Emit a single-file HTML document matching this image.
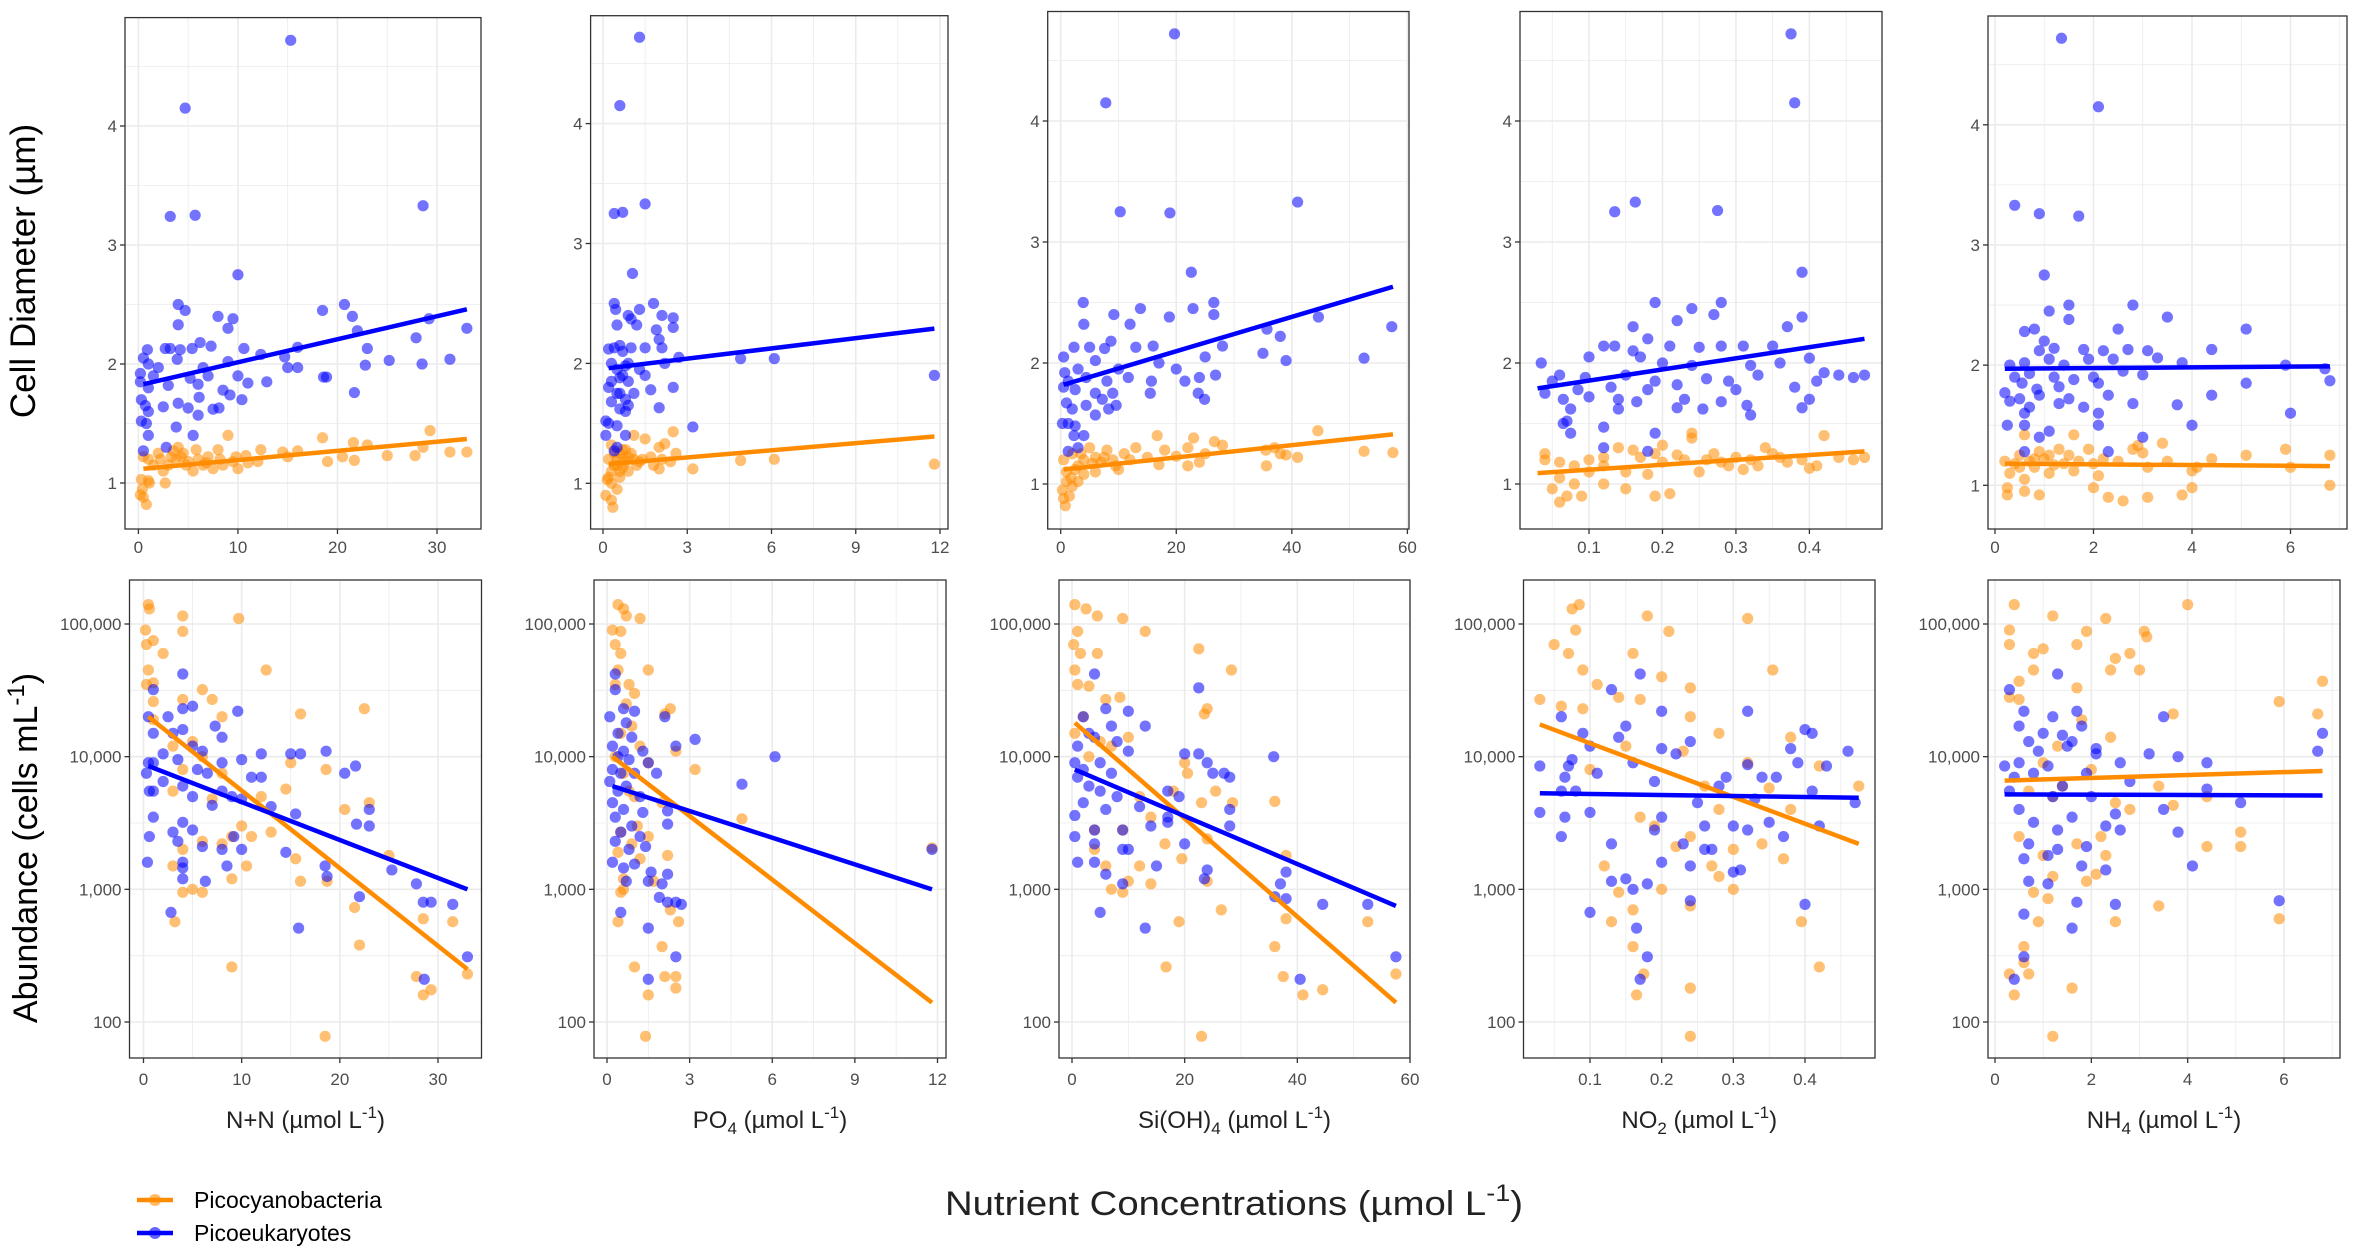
<!DOCTYPE html>
<html><head><meta charset="utf-8">
<style>
html,body{margin:0;padding:0;background:#fff;}
svg{display:block;font-family:"Liberation Sans",Arial,sans-serif;}
</style></head>
<body>
<svg id="chart" width="2359" height="1247" viewBox="0 0 2359 1247" xmlns="http://www.w3.org/2000/svg">
<text transform="translate(35,271) rotate(-90)" text-anchor="middle" font-size="35" fill="#000">Cell Diameter (µm)</text>
<text transform="translate(37,848) rotate(-90)" text-anchor="middle" font-size="34" fill="#000">Abundance (cells mL<tspan dy="-13" font-size="24">-1</tspan><tspan dy="13">)</tspan></text>
<text x="945" y="1215" font-size="34" fill="#222" textLength="578" lengthAdjust="spacingAndGlyphs">Nutrient Concentrations (µmol L<tspan dy="-14" font-size="24">-1</tspan><tspan dy="14">)</tspan></text>
<g>
<g>
<line x1="137" y1="1200" x2="173" y2="1200" stroke="#FF8C00" stroke-width="4.5"/>
<circle cx="155" cy="1200" r="6" fill="#FF8C00" fill-opacity="0.6"/>
<text x="194" y="1208" font-size="23" fill="#000">Picocyanobacteria</text></g>
<g>
<line x1="137" y1="1233" x2="173" y2="1233" stroke="#0000FF" stroke-width="4.5"/>
<circle cx="155" cy="1233" r="6" fill="#0000FF" fill-opacity="0.6"/>
<text x="194" y="1241" font-size="23" fill="#000">Picoeukaryotes</text></g>
</g>
</svg>
<script>
// ---------- DATA ----------
const nutrientNames = ["N+N","PO4","Si(OH)4","NO2","NH4"];
const xTicks1 = [0,10,20,30];
const xTicks2 = [0,3,6,9,12];
const xTicks3 = [0,20,40,60];
const xTicks4 = [0.1,0.2,0.3,0.4];
const xTicks5 = [0,2,4,6];
const diamTicks = [1,2,3,4];
const abundTicks = [100,1000,10000,100000];
const abundTickLabels = ["100","1,000","10,000","100,000"];

// Panel 1: N+N
const p1DiamCyano = [[1,1.2],[2,1.25],[3,1.15],[4,1.3],[4.3,1.22],[5,1.18],[5.5,1.1],[6,1.2],[6.5,1.15],[7,1.22],[7.5,1.12],[8.5,1.15],[9.5,1.18],[10,1.12],[3.5,1.27],[2.5,1.1],[1.5,1.15],[4.5,1.25],[5.8,1.28],[9,1.4],[18.5,1.38],[29.3,1.44],[21.6,1.34],[23,1.32],[12.3,1.28],[16,1.27],[15,1.22],[20.5,1.22],[25,1.23],[27.8,1.23],[28.6,1.3],[31.3,1.26],[33,1.26],[14.5,1.26],[19,1.18],[21.7,1.19],[10.8,1.23],[12,1.18],[8,1.28],[2.7,1.0],[1,1.02],[0.3,1.03],[0.2,0.9],[0.5,0.88],[0.8,0.82],[0.4,0.95],[1.1,1.0],[3.8,1.2],[4.8,1.15],[6.8,1.17],[8.2,1.2],[9.8,1.22],[11,1.17],[0.5,1.22],[2.2,1.2],[3.3,1.22]];
const p1DiamEuk = [[15.3,4.72],[4.7,4.15],[3.2,3.24],[5.7,3.25],[28.6,3.33],[10,2.75],[4,2.5],[4.7,2.45],[20.7,2.5],[21.5,2.4],[18.5,2.45],[8,2.4],[9.5,2.38],[29.2,2.38],[33,2.3],[4,2.33],[9,2.3],[22,2.28],[27.9,2.22],[6.2,2.18],[7.3,2.15],[10.6,2.13],[16,2.14],[23,2.13],[2.7,2.13],[3.2,2.13],[4.2,2.12],[0.9,2.12],[5.4,2.13],[12.3,2.08],[14.7,2.06],[25.2,2.03],[31.3,2.04],[0.5,2.05],[3.9,2.04],[1,2],[2,1.97],[6.5,1.97],[9,2.02],[15,1.97],[16,1.97],[22.8,1.99],[28.5,2],[0.2,1.92],[1.5,1.9],[5.2,1.88],[7,1.9],[10,1.9],[11,1.84],[12.9,1.85],[18.6,1.89],[18.9,1.89],[0.2,1.85],[1,1.8],[3,1.82],[6,1.83],[8.5,1.78],[21.7,1.76],[0.3,1.7],[0.7,1.65],[2.5,1.64],[4,1.67],[5,1.63],[6.1,1.72],[7.5,1.62],[8.1,1.63],[9.2,1.74],[10.4,1.7],[1,1.6],[6,1.57],[0.3,1.52],[0.8,1.5],[1,1.4],[5.5,1.4],[3.8,1.47],[0.5,1.27],[2.8,1.3]];
const p1AbundCyano = [[0.5,140000],[0.6,130000],[4,115000],[9.7,110000],[4,88000],[0.2,90000],[0.3,70000],[1,75000],[2,60000],[0.5,45000],[12.5,45000],[0.3,35000],[1,36000],[6,32000],[7,27000],[4,27000],[1,26000],[8,20000],[16,21000],[22.5,23000],[1,19000],[3,12000],[5,13000],[6,10000],[15,9000],[18.6,8000],[8,7500],[4,8000],[12,5000],[14.5,5700],[20.5,4000],[23,4500],[7,4800],[3,5500],[10,3000],[13,2700],[9,2500],[11,2500],[8,2200],[4,2000],[6,2300],[15.5,1700],[25,1800],[3,1500],[5,1000],[6,950],[4,950],[10.5,1500],[9,1200],[16,1150],[18.7,1150],[21.5,730],[22,380],[28.5,600],[31.5,570],[3.2,570],[9,260],[27.8,220],[28.5,160],[29.3,175],[33,230],[18.5,78]];
const p1AbundEuk = [[4,42000],[1,32000],[0.5,20000],[2.5,20000],[4,23000],[5,24000],[9.6,22000],[1,15000],[3,15000],[4,16000],[5,12000],[6,11000],[7.3,17000],[8,14000],[2,10500],[0.5,9000],[1,9000],[3.5,9500],[5.5,8000],[6.5,7500],[8,9000],[10,9500],[11,7000],[12,7000],[12,10500],[15,10500],[16,10500],[18.6,11000],[20.5,7500],[21.6,8500],[0.3,7500],[0.6,5500],[1,5500],[2,6500],[4,6000],[5,5000],[7,4300],[8,5500],[9,5000],[10,4800],[13,4200],[15.5,3700],[21.7,3100],[23,3000],[23,4000],[1,3500],[0.6,2500],[3,2700],[3.5,2300],[4,3200],[5,2800],[6,2100],[8,2000],[9.2,2500],[10,2000],[14.5,1900],[0.4,1600],[4,1600],[4,1450],[4,1200],[8.5,1500],[6.3,1150],[18.5,1500],[18.7,1250],[25.3,1400],[27.8,1100],[28.5,800],[29.3,800],[31.5,770],[22,880],[2.8,670],[15.8,510],[33,310],[28.6,210]];

// Panel 2: PO4
const p2DiamCyano = [[0.3,1.32],[1.1,1.4],[1.5,1.37],[2.5,1.43],[2.2,1.33],[2,1.3],[0.2,1.2],[0.5,1.15],[0.7,1.2],[0.9,1.1],[1,1.25],[1.3,1.18],[1.7,1.22],[2.1,1.2],[2.6,1.25],[3.2,1.12],[4.9,1.19],[6.1,1.2],[11.8,1.16],[0.4,1.25],[0.6,1.1],[0.8,1.28],[1.2,1.15],[1.8,1.15],[2.4,1.18],[0.15,1.03],[0.3,1.0],[0.1,0.9],[0.3,0.86],[0.35,0.8],[0.5,0.95],[0.3,1.1],[0.2,1.05],[0.6,1.05],[0.7,1.13],[2,1.12],[1.4,1.2],[0.9,1.22],[0.5,1.2],[0.6,1.25],[0.8,1.18],[1.1,1.2],[0.4,1.15],[0.7,1.28]];
const p2DiamEuk = [[1.3,4.72],[0.6,4.15],[0.4,3.25],[0.7,3.26],[1.5,3.33],[1.05,2.75],[0.4,2.5],[1.8,2.5],[0.45,2.45],[1.3,2.45],[0.9,2.4],[1,2.37],[2.1,2.4],[2.5,2.38],[0.5,2.32],[1.2,2.32],[1.9,2.28],[2.5,2.3],[2,2.2],[0.2,2.12],[0.4,2.13],[0.6,2.15],[0.7,2.1],[1,2.13],[1.5,2.13],[2.1,2.13],[4.9,2.04],[6.1,2.04],[2.7,2.05],[2.2,2.0],[0.3,2.0],[0.5,1.95],[0.8,1.98],[1.3,1.95],[0.3,1.85],[0.6,1.88],[0.9,1.85],[1.5,1.9],[0.2,1.8],[0.5,1.75],[0.8,1.7],[1.1,1.75],[1.7,1.78],[2.5,1.8],[0.3,1.68],[0.6,1.62],[0.9,1.65],[2,1.63],[0.1,1.52],[0.2,1.5],[0.5,1.48],[3.2,1.47],[0.8,1.4],[0.1,1.4],[0.4,1.27],[0.5,1.3],[11.8,1.9],[0.7,1.9],[0.8,1.6],[0.6,1.75],[0.9,2.0]];
const p2AbundCyano = [[0.4,140000],[0.6,130000],[0.7,115000],[1.2,110000],[0.2,90000],[0.5,88000],[0.3,70000],[0.5,60000],[0.4,45000],[1.5,45000],[0.8,35000],[0.3,35000],[1,30000],[0.7,25000],[2.1,21000],[2.3,23000],[0.9,17000],[0.5,15000],[1.2,12000],[0.3,10000],[2.5,11000],[3.2,8000],[1.5,9000],[0.6,7500],[1,5000],[0.8,5500],[2,4500],[4.9,3400],[1.1,3000],[0.5,2700],[1.5,2500],[0.9,2200],[0.4,1900],[2.2,1800],[1.2,1700],[0.6,1200],[1.7,1150],[0.5,950],[0.6,1000],[2.3,700],[2.6,570],[0.4,570],[2,370],[2.1,220],[2.5,220],[1,260],[1.5,160],[2.5,180],[1.4,78],[11.8,2050]];
const p2AbundEuk = [[0.3,42000],[0.3,32000],[0.6,23000],[1,22000],[0.1,20000],[2.1,20000],[0.7,18000],[0.4,15000],[0.9,14000],[0.2,12000],[0.6,11000],[1.3,11000],[2.5,12000],[3.2,13500],[0.4,10000],[0.8,9500],[1.5,9000],[6.1,10000],[0.2,8000],[0.5,7500],[1.0,7500],[1.8,7500],[0.1,6500],[0.4,5500],[0.7,6000],[1.2,5000],[4.9,6200],[0.2,4500],[0.6,4000],[1.3,3800],[2.2,3900],[0.3,3500],[0.9,3000],[2.2,3100],[0.5,2700],[1.2,2500],[0.3,2300],[0.8,2000],[1.4,2100],[0.2,1600],[0.6,1450],[1.0,1550],[1.6,1350],[2.2,1300],[0.7,1150],[1.5,1150],[2.0,1100],[1.9,870],[2.2,800],[2.5,800],[2.7,770],[0.5,670],[1.5,510],[2.5,310],[1.5,210],[11.8,2000]];

// Panel 3: Si(OH)4
const p3DiamCyano = [[0.5,1.2],[2,1.25],[3,1.15],[5,1.3],[6,1.22],[7,1.18],[8,1.28],[9.5,1.15],[11,1.25],[12,1.2],[13,1.3],[15,1.22],[16.7,1.4],[18,1.28],[20,1.23],[22,1.3],[23,1.38],[24,1.18],[25,1.25],[26.6,1.35],[28,1.32],[17,1.16],[22,1.15],[35.5,1.28],[37,1.3],[38,1.25],[39,1.24],[41,1.22],[44.5,1.44],[52.5,1.27],[57.5,1.26],[35.6,1.15],[1,1.1],[2.5,1.12],[4,1.08],[6,1.1],[10,1.12],[1,1.02],[0.3,0.95],[0.5,0.88],[1.5,0.9],[0.8,0.82],[2,0.98],[3,1.02],[1.8,1.05],[4,1.2],[5.5,1.17],[7.5,1.22],[9,1.2],[3.5,1.25]];
const p3DiamEuk = [[19.7,4.72],[7.8,4.15],[10.3,3.25],[18.9,3.24],[41,3.33],[22.6,2.75],[3.9,2.5],[26.5,2.5],[13.8,2.45],[22.9,2.45],[9.2,2.4],[18.8,2.38],[26.5,2.4],[44.6,2.38],[57.3,2.3],[4,2.32],[12,2.32],[35.7,2.28],[38,2.22],[8.7,2.18],[16,2.14],[13,2.13],[2.3,2.13],[5,2.13],[7.6,2.12],[28,2.14],[0.5,2.05],[6,2.02],[17,2.0],[25,2.05],[35,2.08],[52.5,2.04],[39,2.02],[20,1.95],[26.8,1.9],[0.7,1.92],[3,1.95],[10,1.95],[11.7,1.88],[24,1.88],[21.5,1.85],[1.3,1.85],[4.4,1.88],[8,1.85],[15.7,1.85],[0.5,1.8],[2.5,1.78],[6,1.75],[9,1.75],[23.8,1.75],[15.5,1.75],[24.9,1.7],[1,1.67],[4.4,1.65],[7.2,1.7],[9.6,1.65],[2,1.62],[8.3,1.62],[6,1.57],[0.3,1.5],[1.3,1.5],[2.5,1.48],[2.3,1.4],[4,1.4],[1.3,1.27],[3,1.3]];
const p3AbundCyano = [[0.5,140000],[2.5,130000],[4.5,115000],[9,110000],[1,88000],[13,88000],[0.3,70000],[1.5,60000],[4.5,60000],[22.5,65000],[0.5,45000],[28.3,45000],[1,35000],[3,34000],[6,27000],[8.5,28000],[2,20000],[23.5,21000],[24,23000],[0.5,15000],[5,13000],[7,12000],[10,14000],[3,10000],[20,9000],[20.5,7500],[12,5000],[18,5500],[25.5,5500],[28.5,4500],[36,4600],[14,3500],[23,4500],[4,2800],[9,2800],[16.5,2200],[24,2400],[4,2000],[6,1500],[12,1500],[19.5,1700],[7,1000],[10,1150],[14,1100],[9,950],[24,1150],[38,1800],[26.5,700],[19,570],[38,600],[52.5,570],[36,370],[16.7,260],[37.5,220],[41,160],[44.5,175],[57.5,230],[23,78]];
const p3AbundEuk = [[4,42000],[22.5,33000],[2,20000],[6,23000],[10,22000],[3,15000],[7,17000],[13,17000],[1,12000],[4,14000],[8,13000],[10,11000],[20,10500],[22.5,10500],[35.8,10000],[0.5,9000],[2,8000],[5,9000],[7,7500],[24,9000],[25,7500],[27,7500],[28,7000],[1,7000],[3,6000],[5,5500],[8,5000],[17,5500],[19,5000],[2,4500],[6,4000],[12,4200],[17,3500],[28,4000],[0.5,3600],[4,2800],[9,2800],[14,3000],[17,3200],[28,3000],[0.5,2500],[4,2200],[9,2000],[10,2000],[20,2200],[1,1600],[4,1600],[6,1300],[15,1500],[24,1400],[23.5,1200],[38,1350],[37,1100],[36,880],[38,850],[44.5,770],[52.5,770],[5,670],[13,510],[57.5,310],[40.5,210],[9,1100]];

// Panel 4: NO2
const p4DiamCyano = [[0.04,1.2],[0.06,1.18],[0.08,1.15],[0.1,1.2],[0.12,1.22],[0.14,1.3],[0.16,1.28],[0.17,1.22],[0.19,1.25],[0.2,1.18],[0.22,1.24],[0.24,1.42],[0.24,1.38],[0.26,1.2],[0.27,1.25],[0.29,1.15],[0.3,1.22],[0.32,1.2],[0.34,1.3],[0.35,1.25],[0.37,1.18],[0.39,1.2],[0.41,1.15],[0.42,1.4],[0.44,1.22],[0.46,1.2],[0.475,1.22],[0.04,1.25],[0.2,1.32],[0.12,1.15],[0.15,1.1],[0.25,1.1],[0.31,1.12],[0.4,1.13],[0.18,1.08],[0.06,1.05],[0.08,1.0],[0.05,0.96],[0.07,0.9],[0.06,0.85],[0.09,0.9],[0.12,1.0],[0.15,0.96],[0.19,0.9],[0.21,0.92],[0.1,1.1],[0.23,1.2],[0.28,1.18],[0.33,1.15],[0.36,1.22]];
const p4DiamEuk = [[0.375,4.72],[0.38,4.15],[0.163,3.33],[0.135,3.25],[0.275,3.26],[0.39,2.75],[0.19,2.5],[0.24,2.45],[0.28,2.5],[0.16,2.3],[0.22,2.35],[0.27,2.4],[0.37,2.3],[0.39,2.38],[0.18,2.2],[0.12,2.14],[0.135,2.14],[0.21,2.14],[0.25,2.13],[0.28,2.14],[0.31,2.14],[0.35,2.14],[0.1,2.05],[0.035,2.0],[0.16,2.1],[0.17,2.05],[0.2,2.0],[0.24,1.98],[0.32,1.98],[0.36,2.0],[0.4,2.04],[0.06,1.9],[0.095,1.88],[0.15,1.9],[0.19,1.85],[0.26,1.87],[0.29,1.85],[0.33,1.9],[0.42,1.92],[0.44,1.9],[0.46,1.88],[0.475,1.9],[0.05,1.85],[0.085,1.78],[0.13,1.8],[0.18,1.78],[0.22,1.82],[0.3,1.78],[0.38,1.8],[0.41,1.85],[0.04,1.75],[0.065,1.7],[0.1,1.72],[0.14,1.7],[0.165,1.68],[0.23,1.7],[0.28,1.68],[0.4,1.7],[0.075,1.62],[0.14,1.62],[0.22,1.63],[0.255,1.62],[0.315,1.65],[0.39,1.63],[0.065,1.5],[0.07,1.52],[0.075,1.42],[0.12,1.47],[0.32,1.57],[0.19,1.42],[0.12,1.3],[0.18,1.27]];
const p4AbundCyano = [[0.085,140000],[0.075,130000],[0.18,115000],[0.32,110000],[0.08,90000],[0.21,88000],[0.05,70000],[0.07,60000],[0.16,60000],[0.09,45000],[0.355,45000],[0.2,40000],[0.11,35000],[0.24,33000],[0.14,28000],[0.03,27000],[0.17,27000],[0.06,24000],[0.09,23000],[0.24,20000],[0.28,15000],[0.38,14000],[0.15,12000],[0.23,11000],[0.32,9000],[0.1,8000],[0.42,8500],[0.475,6000],[0.26,6000],[0.35,5800],[0.28,4000],[0.38,4000],[0.19,3000],[0.17,3500],[0.24,2500],[0.3,2000],[0.34,2200],[0.22,2100],[0.12,1500],[0.2,1000],[0.27,1500],[0.28,1250],[0.3,1000],[0.37,1700],[0.14,950],[0.16,700],[0.24,750],[0.13,570],[0.395,570],[0.16,370],[0.42,260],[0.175,230],[0.165,160],[0.24,180],[0.24,78]];
const p4AbundEuk = [[0.17,42000],[0.13,32000],[0.32,22000],[0.2,22000],[0.06,20000],[0.09,15000],[0.14,14000],[0.15,17000],[0.24,13000],[0.4,16000],[0.41,15000],[0.1,12000],[0.2,11500],[0.38,11500],[0.46,11000],[0.22,10500],[0.03,8500],[0.07,8500],[0.16,9000],[0.29,7000],[0.32,8700],[0.34,7000],[0.36,7000],[0.39,9000],[0.43,8500],[0.065,7000],[0.11,7500],[0.19,6500],[0.28,6000],[0.41,5500],[0.06,5500],[0.08,5500],[0.25,4500],[0.33,4800],[0.47,4500],[0.03,3800],[0.065,3500],[0.1,3800],[0.2,3500],[0.26,3000],[0.3,3000],[0.35,3200],[0.37,2500],[0.06,2500],[0.19,2800],[0.23,2200],[0.26,2000],[0.27,2000],[0.32,2800],[0.42,3000],[0.13,2200],[0.2,1600],[0.24,1500],[0.3,1350],[0.31,1400],[0.13,1150],[0.15,1200],[0.16,1000],[0.18,1100],[0.1,670],[0.24,820],[0.4,770],[0.165,510],[0.18,310],[0.17,210],[0.075,9500]];

// Panel 5: NH4
const p5DiamCyano = [[0.2,1.2],[0.4,1.18],[0.5,1.25],[0.7,1.2],[0.8,1.15],[0.9,1.28],[1.0,1.22],[1.2,1.17],[1.3,1.3],[1.5,1.25],[1.7,1.2],[1.9,1.3],[2.0,1.18],[2.2,1.22],[2.5,1.2],[2.8,1.3],[3.0,1.27],[3.4,1.35],[3.5,1.2],[4.1,1.15],[4.4,1.22],[5.1,1.25],[5.9,1.3],[6.0,1.15],[6.8,1.25],[0.6,1.42],[1.6,1.42],[2.9,1.33],[0.3,1.1],[0.6,1.05],[1.1,1.1],[1.6,1.12],[2.1,1.08],[3.1,1.15],[4.0,1.12],[0.25,0.98],[0.25,0.92],[0.6,0.95],[0.9,0.92],[2.0,0.98],[2.3,0.9],[2.6,0.87],[3.1,0.9],[3.8,0.92],[4.0,0.98],[6.8,1.0],[0.5,1.15],[0.8,1.22],[1.1,1.25],[1.4,1.18]];
const p5DiamEuk = [[1.35,4.72],[2.1,4.15],[0.4,3.33],[0.9,3.26],[1.7,3.24],[1,2.75],[1.5,2.5],[2.8,2.5],[1.1,2.45],[1.5,2.38],[3.5,2.4],[5.1,2.3],[0.6,2.28],[0.8,2.3],[2.5,2.3],[1.0,2.2],[0.9,2.12],[1.2,2.14],[1.8,2.13],[2.2,2.12],[2.7,2.13],[3.1,2.12],[4.4,2.13],[0.3,2.0],[0.6,2.02],[1.1,2.05],[1.4,2.0],[1.9,2.05],[2.4,2.05],[3.3,2.06],[3.8,2.02],[5.9,2.0],[6.7,1.97],[0.4,1.9],[0.7,1.93],[1.2,1.9],[1.6,1.88],[2,1.9],[2.6,1.95],[3.0,1.92],[6.8,1.87],[0.55,1.85],[0.85,1.8],[1.3,1.82],[2.1,1.85],[5.1,1.85],[0.2,1.77],[0.5,1.72],[0.9,1.75],[1.5,1.72],[2.3,1.75],[4.4,1.75],[0.3,1.7],[0.7,1.65],[1.3,1.68],[1.8,1.65],[2.8,1.68],[3.7,1.67],[0.6,1.6],[2.1,1.6],[6.0,1.6],[0.25,1.5],[0.6,1.5],[1.1,1.45],[2.1,1.5],[4.0,1.5],[0.9,1.4],[3.0,1.4],[0.6,1.28],[2.3,1.28]];
const p5AbundCyano = [[0.4,140000],[4.0,140000],[1.2,115000],[2.3,110000],[0.3,90000],[1.9,88000],[3.1,88000],[0.3,70000],[3.15,80000],[1.7,70000],[1.0,65000],[2.8,60000],[2.5,55000],[0.8,60000],[2.4,45000],[3.0,45000],[0.8,45000],[0.5,37000],[1.7,33000],[6.8,37000],[0.3,28000],[0.5,27000],[5.9,26000],[3.7,21000],[6.7,21000],[1.8,19000],[2.4,14000],[1.3,12000],[1.0,9000],[2.0,8000],[1.4,6000],[3.4,6000],[4.4,5000],[0.7,5500],[1.2,5000],[2.8,4000],[2.5,4500],[3.7,4300],[5.1,2700],[0.5,2500],[2.2,2500],[1.7,2200],[4.4,2100],[5.1,2100],[1.0,1800],[2.3,1800],[2.1,1300],[1.2,1250],[1.9,1150],[0.8,950],[1.1,850],[3.4,750],[0.9,570],[2.5,570],[5.9,600],[0.6,370],[0.6,280],[0.3,230],[0.7,230],[0.4,160],[1.6,180],[1.2,78]];
const p5AbundEuk = [[1.3,42000],[0.3,32000],[0.6,22000],[1.7,22000],[1.2,20000],[3.5,20000],[0.5,17000],[1.8,17000],[1.0,15000],[6.8,15000],[1.4,14500],[0.7,13000],[1.6,13000],[2.1,11500],[0.9,11000],[1.5,12000],[2.1,10500],[3.2,10500],[3.8,10000],[0.2,8500],[0.5,9000],[1.1,8500],[2.6,9000],[4.4,9000],[6.7,11000],[0.4,7000],[0.8,7500],[1.4,6000],[2.8,6500],[1.9,7500],[0.3,5500],[1.2,5000],[2.0,5000],[4.4,5700],[5.1,4500],[0.5,4000],[1.6,3500],[2.5,3700],[3.5,4000],[0.8,3200],[1.3,2800],[2.3,3000],[2.6,2800],[3.8,2700],[0.7,2200],[1.3,2000],[1.9,2100],[0.6,1700],[1.1,1800],[1.8,1500],[2.3,1400],[4.1,1500],[0.7,1150],[1.1,1100],[1.7,800],[2.5,770],[5.9,820],[0.6,650],[1.6,510],[0.6,310],[0.4,210]];

// Regression fit endpoints [x0, y0, x1, y1]
const fitDiamCyano = [[0.5,1.12,33,1.37],[0.2,1.16,11.8,1.39],[0.5,1.12,57.5,1.41],[0.03,1.09,0.475,1.27],[0.2,1.18,6.8,1.16]];
const fitDiamEuk = [[0.5,1.83,33,2.46],[0.2,1.96,11.8,2.29],[0.5,1.82,57.5,2.63],[0.03,1.79,0.475,2.2],[0.2,1.97,6.8,1.99]];
const fitAbundCyano = [[0.5,20000,33,250],[0.2,10000,11.8,140],[0.5,18000,57.5,140],[0.03,17500,0.475,2200],[0.2,6600,6.8,7800]];
const fitAbundEuk = [[0.5,8500,33,1000],[0.2,6000,11.8,1000],[0.5,8000,57.5,750],[0.03,5300,0.475,4900],[0.2,5200,6.8,5100]];

// ---------- LAYOUT ----------
const topBoxes = [
 {x0:125,x1:481,y0:17.6,y1:529,xa:[0,138.4],xb:[30,437],ya:[1,483],yb:[4,126],minor:5},
 {x0:590.6,x1:948,y0:15.7,y1:529,xa:[0,603],xb:[12,940],ya:[1,483.3],yb:[4,123.6],minor:1.5},
 {x0:1047.7,x1:1409,y0:11.5,y1:529,xa:[0,1060.7],xb:[60,1407.4],ya:[1,484],yb:[4,121],minor:10},
 {x0:1520,x1:1882,y0:11.5,y1:529,xa:[0.1,1589],xb:[0.4,1809.4],ya:[1,484],yb:[4,121],minor:0.05},
 {x0:1988,x1:2347,y0:16,y1:529,xa:[0,1995],xb:[6,2290.5],ya:[1,485.3],yb:[4,124.8],minor:1}
];
const botBoxes = [
 {x0:129.5,x1:481.5,y0:580,y1:1058,xa:[0,143.5],xb:[30,438],minor:5},
 {x0:594,x1:946,y0:580,y1:1058,xa:[0,607],xb:[12,937.5],minor:1.5},
 {x0:1059,x1:1410,y0:580,y1:1058,xa:[0,1072],xb:[60,1410],minor:10},
 {x0:1523.5,x1:1875,y0:580,y1:1058,xa:[0.1,1590],xb:[0.4,1805],minor:0.05},
 {x0:1988,x1:2340,y0:580,y1:1058,xa:[0,1995],xb:[6,2284],minor:1}
];
const xTickSets = [xTicks1,xTicks2,xTicks3,xTicks4,xTicks5];
const diamC = [p1DiamCyano,p2DiamCyano,p3DiamCyano,p4DiamCyano,p5DiamCyano];
const diamE = [p1DiamEuk,p2DiamEuk,p3DiamEuk,p4DiamEuk,p5DiamEuk];
const abC = [p1AbundCyano,p2AbundCyano,p3AbundCyano,p4AbundCyano,p5AbundCyano];
const abE = [p1AbundEuk,p2AbundEuk,p3AbundEuk,p4AbundEuk,p5AbundEuk];

const NS="http://www.w3.org/2000/svg";
const svg=document.getElementById('chart');
const ORANGE="#FF8C00", BLUE="#0000FF";
function mk(tag,attrs,parent){const e=document.createElementNS(NS,tag);for(const k in attrs)e.setAttribute(k,attrs[k]);(parent||svg).appendChild(e);return e;}
function lin(a,b){return v=>a[1]+(v-a[0])*(b[1]-a[1])/(b[0]-a[0]);}
function fmt(v){return String(v);}

const titles=[["N+N (µmol L","",")"],["PO","4"," (µmol L"],["Si(OH)","4"," (µmol L"],["NO","2"," (µmol L"],["NH","4"," (µmol L"]];

function drawPanel(box, row, i){
  const g=mk('g',{});
  
  
  const sx=lin(box.xa,box.xb);
  let sy;
  if(row==='top') sy=lin(box.ya,box.yb);
  else { const l=lin([2,1022],[5,624]); sy=v=>l(Math.log10(v)); }
  const clipId='clip-'+row+i;
  const cp=mk('clipPath',{id:clipId},g); mk('rect',{x:box.x0,y:box.y0,width:box.x1-box.x0,height:box.y1-box.y0},cp);
  const grid=mk('g',{},g);
  
  
  const dom0 = box.xa[0]+(box.x0-box.xa[1])*(box.xb[0]-box.xa[0])/(box.xb[1]-box.xa[1]);
  const dom1 = box.xa[0]+(box.x1-box.xa[1])*(box.xb[0]-box.xa[0])/(box.xb[1]-box.xa[1]);
  for(let k=Math.ceil(dom0/box.minor-1e-9);k*box.minor<=dom1+1e-9;k++){
    const v=k*box.minor; const px=sx(v);
    const major=(k%2===0);
    mk('line',{x1:px,x2:px,y1:box.y0,y2:box.y1,stroke:'#ebebeb','stroke-width':major?1.6:0.8},grid);
  }
  if(row==='top'){
    for(let v=0.5;v<=5;v+=0.5){const py=sy(v); if(py<box.y0||py>box.y1)continue; mk('line',{x1:box.x0,x2:box.x1,y1:py,y2:py,stroke:'#ebebeb','stroke-width':(v%1===0)?1.6:0.8},grid);}
  } else {
    for(let e=1.5;e<=5.5;e+=0.5){const py=sy(Math.pow(10,e)); if(py<box.y0||py>box.y1)continue; mk('line',{x1:box.x0,x2:box.x1,y1:py,y2:py,stroke:'#ebebeb','stroke-width':(e%1===0)?1.6:0.8},grid);}
  }
  const pc = row==='top'?diamC[i]:abC[i];
  const pe = row==='top'?diamE[i]:abE[i];
  const pts=mk('g',{'clip-path':'url(#'+clipId+')'},g);
  
  
  const drawPts=(arr,col,nm)=>{arr.forEach(d=>{const c=mk('circle',{cx:sx(d[0]),cy:sy(d[1]),r:5.6,fill:col,'fill-opacity':0.55},pts);
    
    });};
  drawPts(pc,ORANGE,'point-picocyanobacteria'); drawPts(pe,BLUE,'point-picoeukaryote');
  const fc = (row==='top'?fitDiamCyano:fitAbundCyano)[i];
  const fe = (row==='top'?fitDiamEuk:fitAbundEuk)[i];
  const l1=mk('line',{x1:sx(fc[0]),y1:sy(fc[1]),x2:sx(fc[2]),y2:sy(fc[3]),stroke:ORANGE,'stroke-width':4.5},g);
  
  
  const l2=mk('line',{x1:sx(fe[0]),y1:sy(fe[1]),x2:sx(fe[2]),y2:sy(fe[3]),stroke:BLUE,'stroke-width':4.5},g);
  
  
  mk('rect',{x:box.x0,y:box.y0,width:box.x1-box.x0,height:box.y1-box.y0,fill:'none',stroke:'#333','stroke-width':1.3},g);
  const xt=mk('g',{},g);
  
  
  const ty = row==='top'?553:1085;
  xTickSets[i].forEach(v=>{const px=sx(v);
    mk('line',{x1:px,x2:px,y1:box.y1,y2:box.y1+5,stroke:'#333','stroke-width':1.3},xt);
    const t=mk('text',{x:px,y:ty,'text-anchor':'middle','font-size':17,fill:'#4d4d4d'},xt); t.textContent=fmt(v);});
  const yt=mk('g',{},g);
  
  
  const yv = row==='top'?diamTicks:abundTicks;
  yv.forEach((v,j)=>{const py=sy(v);
    mk('line',{x1:box.x0-5,x2:box.x0,y1:py,y2:py,stroke:'#333','stroke-width':1.3},yt);
    const t=mk('text',{x:box.x0-8,y:py+6,'text-anchor':'end','font-size':17,fill:'#4d4d4d'},yt);
    t.textContent= row==='top'?String(v):abundTickLabels[j];});
  if(row==='bot'){
    const cx=(box.x0+box.x1)/2;
    const t=mk('text',{x:cx,y:1128,'text-anchor':'middle','font-size':24,fill:'#222'},g);
    
    
    const tt=titles[i];
    if(i===0){ t.innerHTML='N+N (µmol L<tspan dy="-10" font-size="17">-1</tspan><tspan dy="10">)</tspan>'; }
    else { t.innerHTML=tt[0]+'<tspan dy="6" font-size="17">'+tt[1]+'</tspan><tspan dy="-6">'+tt[2]+'</tspan><tspan dy="-10" font-size="17">-1</tspan><tspan dy="10">)</tspan>'; }
  }
}
topBoxes.forEach((b,i)=>drawPanel(b,'top',i));
botBoxes.forEach((b,i)=>drawPanel(b,'bot',i));
</script>
</body></html>
